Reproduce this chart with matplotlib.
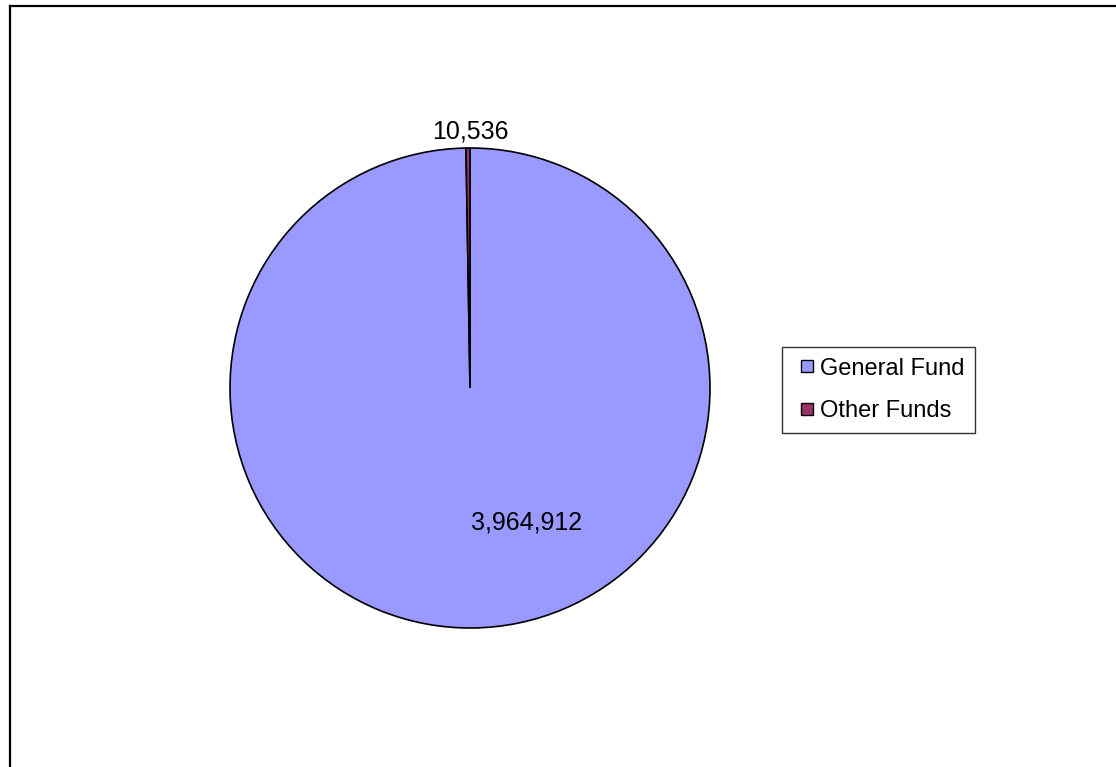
import matplotlib
matplotlib.use('Agg')
import matplotlib.pyplot as plt
from matplotlib.lines import Line2D
from matplotlib.patches import Rectangle
from matplotlib.legend_handler import HandlerPatch

plt.rcParams['font.family'] = ['Liberation Sans', 'DejaVu Sans']

# Data
funds = ['General Fund', 'Other Funds']
amounts = [3964912, 10536]
colors = ['#9999FF', '#993366']

W, H = 1116, 767
fig = plt.figure(figsize=(W / 100, H / 100), dpi=100)

# Pie axes: centre at (470, 388) px, radius 240 px
cx, cy, r = 470, 388, 240
ax = fig.add_axes([(cx - r) / W, (H - cy - r) / H, 2 * r / W, 2 * r / H])
wedges, _ = ax.pie(amounts, colors=colors, startangle=90, counterclock=False,
                   wedgeprops=dict(edgecolor='black', linewidth=1.2))
ax.set_xlim(-1, 1)
ax.set_ylim(-1, 1)
ax.set_aspect('equal')
ax.axis('off')

# Value labels
ax.text(0.235, -0.56, f'{amounts[0]:,}', ha='center', va='center', fontsize=18)
ax.text(0.0, 1.07, f'{amounts[1]:,}', ha='center', va='center', fontsize=18)


# Small square legend keys sitting at the right of the handle area
def square_key(legend, orig_handle, xdescent, ydescent, width, height, fontsize):
    s = 8.6
    return Rectangle((width - s - xdescent, (height - s) / 2 - ydescent), s, s)


handles = [Rectangle((0, 0), 1, 1, facecolor=c, edgecolor='black', linewidth=1.0)
           for c in colors]
leg = fig.legend(handles, funds, loc='upper left',
                 bbox_to_anchor=(782 / W, 1 - 347 / H), fontsize=17,
                 frameon=True, fancybox=False, edgecolor='black',
                 handlelength=0.85, handleheight=0.55, handletextpad=0.3,
                 labelspacing=0.88, borderpad=0.45, borderaxespad=0,
                 handler_map={Rectangle: HandlerPatch(patch_func=square_key)})
leg.get_frame().set_linewidth(1.0)

# Chart area border (left and top edges visible)
fig.add_artist(Line2D([9.5 / W, 9.5 / W], [0, 1 - 6 / H], color='black',
                      linewidth=1.6, transform=fig.transFigure))
fig.add_artist(Line2D([9.5 / W, 1], [1 - 6 / H, 1 - 6 / H], color='black',
                      linewidth=1.6, transform=fig.transFigure))

fig.savefig('out.png', dpi=100, facecolor='white')
